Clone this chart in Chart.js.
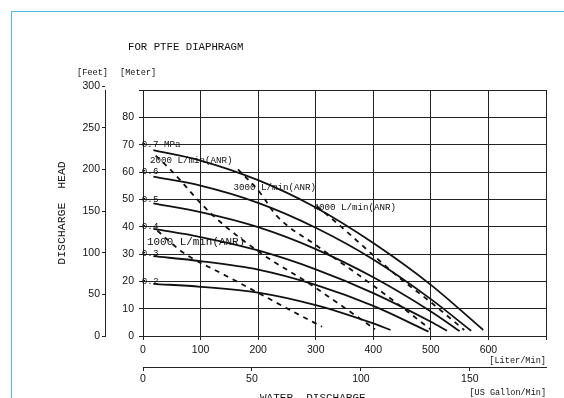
<!DOCTYPE html>
<html>
<head>
  <title>For PTFE Diaphragm - discharge head</title>
  <script src="https://cdn.jsdelivr.net/npm/chart.js@4"></script>
  <style>
    body {
      margin: 0;
      background: #fff;
      overflow: hidden;
    }
    .frame {
      position: absolute;
      left: 11px;
      top: 11px;
      width: 700px;
      height: 500px;
      border-top: 1px solid #4fb9ec;
      border-left: 1px solid #4fb9ec;
    }
    #chart {
      position: absolute;
      left: 0;
      top: 0;
    }
  </style>
</head>
<body>
  <div class="frame"></div>
  <canvas id="chart" width="564" height="398"></canvas>

  <script>
    // pressure curves: flow [L/min] -> head [m]
    const flow07 = [18, 100, 200, 300, 400, 500, 591];
    const head07 = [68, 64.2, 57, 47, 34, 18.7, 2.2];
    const flow06 = [18, 100, 200, 300, 400, 500, 570];
    const head06 = [58.3, 55, 48.7, 39.6, 28, 13.5, 1.9];
    const flow05 = [18, 100, 200, 300, 400, 500, 550];
    const head05 = [48.5, 45.3, 39.8, 31.8, 21.5, 9, 1.8];
    const flow04 = [18, 100, 200, 300, 400, 500, 528];
    const head04 = [39.2, 36.2, 31.3, 24.4, 15.7, 5.2, 1.9];
    const flow03 = [18, 100, 200, 300, 400, 496];
    const head03 = [29.2, 27.4, 24.3, 18.7, 11, 1.6];
    const flow02 = [18, 100, 200, 300, 400, 430];
    const head02 = [19.1, 18, 15.9, 11.3, 4.6, 2.2];

    // air consumption lines (dashed)
    const flow1000 = [25, 70, 140, 200, 260, 311];
    const head1000 = [38.5, 30.5, 22.5, 15.8, 9, 3.4];
    const flow2000 = [22, 47, 117, 200, 290, 403];
    const head2000 = [66, 61, 45, 31, 19, 2.5];
    const flow3000 = [165, 203, 232, 302, 370, 447, 499];
    const head3000 = [61, 52.5, 44, 33, 23, 11, 2.5];
    const flow4000 = [302, 343, 389, 447, 499, 558];
    const head4000 = [47.5, 40.2, 31.6, 21, 12.5, 2.2];

    const pressureNames = ['0.7 MPa', '0.6', '0.5', '0.4', '0.3', '0.2'];
    const airNames = ['1000 L/min(ANR)', '2000 L/min(ANR)', '3000 L/min(ANR)', '4000 L/min(ANR)'];

    // tick labels
    const literTicks = [0, 100, 200, 300, 400, 500, 600, 700];
    const gallonTicks = [0, 50, 100, 150];
    const meterTicks = [0, 10, 20, 30, 40, 50, 60, 70, 80, 90];
    const feetTicks = [0, 50, 100, 150, 200, 250, 300];

    const pts = (xs, ys) => xs.map((x, i) => ({ x: x, y: ys[i] }));

    const solid = (label, xs, ys) => ({
      label: label,
      data: pts(xs, ys),
      borderColor: '#111',
      borderWidth: 1.8,
      pointRadius: 0,
      fill: false,
      cubicInterpolationMode: 'monotone'
    });
    const dashed = (label, xs, ys) => ({
      label: label,
      data: pts(xs, ys),
      borderColor: '#111',
      borderWidth: 1.8,
      borderDash: [5, 5],
      pointRadius: 0,
      fill: false,
      cubicInterpolationMode: 'monotone'
    });

    // where the curve labels sit (in axis units)
    const notes = [
      { text: pressureNames[0], at: [-2, 70], size: 9.2 },
      { text: pressureNames[1], at: [-2, 60], size: 9.2 },
      { text: pressureNames[2], at: [-2, 50], size: 9.2 },
      { text: pressureNames[3], at: [-2, 40], size: 9.2 },
      { text: pressureNames[4], at: [-2, 30], size: 9.2 },
      { text: pressureNames[5], at: [-2, 20], size: 9.2 },
      { text: airNames[0], at: [7, 34.2], size: 10.9 },
      { text: airNames[1], at: [12, 64], size: 9.2 },
      { text: airNames[2], at: [157, 54.4], size: 9.2 },
      { text: airNames[3], at: [296, 47], size: 9.2 }
    ];

    const mono = '"Liberation Mono", "DejaVu Sans Mono", monospace';
    const sans = '"Liberation Sans", Arial, sans-serif';

    const textPlugin = {
      id: 'notes',
      afterDraw(chart) {
        const ctx = chart.ctx;
        const x = chart.scales.x;
        const y = chart.scales.y;
        ctx.save();
        ctx.fillStyle = '#111';
        ctx.textAlign = 'left';
        ctx.textBaseline = 'middle';

        ctx.font = '10.7px ' + mono;
        ctx.fillText('FOR PTFE DIAPHRAGM', 128, 47);

        ctx.font = '8.6px ' + mono;
        ctx.fillText('[Feet]', 77, 73);
        ctx.fillText('[Meter]', 120, 73);

        notes.forEach(n => {
          ctx.font = n.size + 'px ' + mono;
          ctx.fillText(n.text, x.getPixelForValue(n.at[0]), y.getPixelForValue(n.at[1]));
        });

        ctx.textBaseline = 'top';
        ctx.font = '11px ' + mono;
        ctx.fillText('WATER  DISCHARGE', 260, 393);
        ctx.restore();
      }
    };

    new Chart(document.getElementById('chart').getContext('2d'), {
      type: 'line',
      data: {
        datasets: [
          solid(pressureNames[0], flow07, head07),
          solid(pressureNames[1], flow06, head06),
          solid(pressureNames[2], flow05, head05),
          solid(pressureNames[3], flow04, head04),
          solid(pressureNames[4], flow03, head03),
          solid(pressureNames[5], flow02, head02),
          dashed(airNames[0], flow1000, head1000),
          dashed(airNames[1], flow2000, head2000),
          dashed(airNames[2], flow3000, head3000),
          dashed(airNames[3], flow4000, head4000)
        ]
      },
      options: {
        responsive: false,
        animation: false,
        devicePixelRatio: 1,
        layout: { padding: { left: 55, right: 18, top: 90, bottom: 0 } },
        plugins: {
          legend: { display: false },
          tooltip: { enabled: false }
        },
        scales: {
          x: {
            type: 'linear',
            position: 'bottom',
            weight: 0,
            min: 0,
            max: 700,
            afterBuildTicks: s => { s.ticks = literTicks.map(v => ({ value: v })); },
            afterFit: s => { s.height = 31; },
            ticks: {
              autoSkip: false,
              maxRotation: 0,
              padding: 4,
              color: '#111',
              font: { family: sans, size: 10.5 },
              callback: v => (v === 700 ? '' : v)
            },
            grid: { color: '#222', lineWidth: 1, tickLength: 4 },
            border: { color: '#222' },
            title: {
              display: true,
              text: '[Liter/Min]',
              align: 'end',
              color: '#111',
              padding: { top: 0, bottom: 1 },
              font: { family: mono, size: 8.6 }
            }
          },
          gallon: {
            type: 'linear',
            position: 'bottom',
            weight: 1,
            min: 0,
            max: 700 / 3.785,
            afterBuildTicks: s => { s.ticks = gallonTicks.map(v => ({ value: v })); },
            afterFit: s => { s.height = 31; },
            ticks: {
              autoSkip: false,
              maxRotation: 0,
              padding: 2,
              color: '#111',
              font: { family: sans, size: 10.5 }
            },
            grid: { drawOnChartArea: false, color: '#222', tickLength: 4 },
            border: { color: '#222' },
            title: {
              display: true,
              text: '[US Gallon/Min]',
              align: 'end',
              color: '#111',
              padding: { top: 0, bottom: 0 },
              font: { family: mono, size: 8.5 }
            }
          },
          y: {
            type: 'linear',
            position: 'left',
            weight: 0,
            min: 0,
            max: 90,
            afterBuildTicks: s => { s.ticks = meterTicks.map(v => ({ value: v })); },
            afterFit: s => { s.width = 38; },
            ticks: {
              autoSkip: false,
              padding: 5,
              color: '#111',
              font: { family: sans, size: 10.5 },
              callback: v => (v === 90 ? '' : v)
            },
            grid: { color: '#222', lineWidth: 1, tickLength: 4 },
            border: { color: '#222' }
          },
          feet: {
            type: 'linear',
            position: 'left',
            weight: 1,
            min: 0,
            max: 90 / 0.3048,
            afterBuildTicks: s => { s.ticks = feetTicks.map(v => ({ value: v })); },
            afterFit: s => { s.width = 50; },
            ticks: {
              autoSkip: false,
              padding: 2,
              color: '#111',
              font: { family: sans, size: 10.5 }
            },
            grid: { drawOnChartArea: false, color: '#222', tickLength: 3 },
            border: { color: '#222' },
            title: {
              display: true,
              text: 'DISCHARGE  HEAD',
              color: '#111',
              padding: { top: 0, bottom: 0 },
              font: { family: mono, size: 11.5 }
            }
          }
        }
      },
      plugins: [textPlugin]
    });
  </script>
</body>
</html>
